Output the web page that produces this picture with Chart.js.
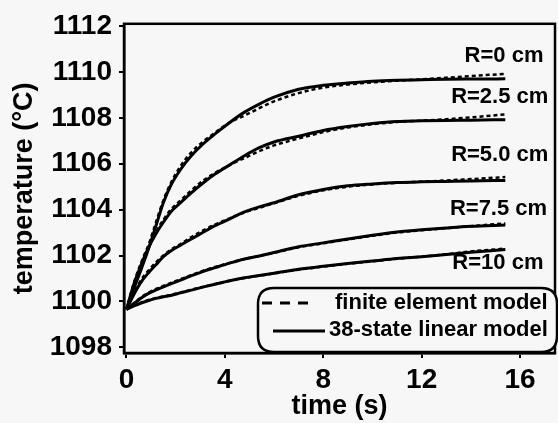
<!DOCTYPE html>
<html>
<head>
<meta charset="utf-8">
<script src="https://cdn.jsdelivr.net/npm/chart.js@4.4.1/dist/chart.umd.min.js"></script>
<style>
  html, body { margin: 0; padding: 0; background: #f7f7f7; }
  canvas { display: block; }
</style>
</head>
<body>
<canvas id="myChart" width="558" height="423"></canvas>
<script>
// time axis (s), shared by all curves
var times = [0, 0.3, 0.6, 0.9, 1.2, 1.5, 1.8, 2.2, 2.6, 3.1, 3.6, 4.2, 4.8, 5.4, 6.0, 7.0, 8.0, 9.0, 10.0, 11.0, 12.0, 13.0, 14.0, 15.4];

// 38-state linear model (solid)
var linR0   = [1099.65, 1100.55, 1101.4, 1102.3, 1103.3, 1104.3, 1105.05, 1105.75, 1106.3, 1106.85, 1107.3, 1107.8, 1108.25, 1108.6, 1108.9, 1109.25, 1109.42, 1109.52, 1109.6, 1109.64, 1109.66, 1109.68, 1109.69, 1109.7];
var linR25  = [1099.65, 1100.75, 1101.6, 1102.35, 1102.95, 1103.45, 1103.9, 1104.3, 1104.7, 1105.15, 1105.55, 1105.95, 1106.35, 1106.7, 1106.95, 1107.2, 1107.45, 1107.62, 1107.75, 1107.84, 1107.87, 1107.89, 1107.9, 1107.92];
var linR50  = [1099.65, 1100.3, 1100.85, 1101.25, 1101.6, 1101.95, 1102.2, 1102.45, 1102.7, 1103.0, 1103.3, 1103.6, 1103.9, 1104.12, 1104.3, 1104.65, 1104.88, 1105.04, 1105.12, 1105.18, 1105.21, 1105.23, 1105.25, 1105.27];
var linR75  = [1099.65, 1099.9, 1100.15, 1100.35, 1100.5, 1100.63, 1100.76, 1100.93, 1101.1, 1101.3, 1101.47, 1101.67, 1101.85, 1101.98, 1102.13, 1102.38, 1102.55, 1102.72, 1102.88, 1103.02, 1103.12, 1103.2, 1103.27, 1103.33];
var linR10  = [1099.65, 1099.8, 1099.93, 1100.04, 1100.13, 1100.2, 1100.26, 1100.37, 1100.48, 1100.62, 1100.75, 1100.9, 1101.03, 1101.13, 1101.23, 1101.4, 1101.53, 1101.65, 1101.76, 1101.87, 1101.95, 1102.04, 1102.14, 1102.26];

// finite element model (dashed)
var feR0   = [1099.65, 1100.6, 1101.5, 1102.45, 1103.45, 1104.4, 1105.15, 1105.9, 1106.45, 1106.95, 1107.35, 1107.8, 1108.1, 1108.42, 1108.72, 1109.08, 1109.32, 1109.45, 1109.55, 1109.62, 1109.68, 1109.75, 1109.82, 1109.92];
var feR25  = [1099.65, 1100.8, 1101.7, 1102.45, 1103.05, 1103.55, 1104.0, 1104.4, 1104.8, 1105.25, 1105.6, 1105.95, 1106.25, 1106.55, 1106.8, 1107.1, 1107.38, 1107.58, 1107.72, 1107.82, 1107.88, 1107.94, 1108.02, 1108.15];
var feR50  = [1099.65, 1100.35, 1100.95, 1101.35, 1101.7, 1102.0, 1102.25, 1102.5, 1102.78, 1103.08, 1103.35, 1103.62, 1103.88, 1104.08, 1104.28, 1104.6, 1104.84, 1105.0, 1105.1, 1105.17, 1105.22, 1105.27, 1105.33, 1105.42];
var feR75  = [1099.65, 1099.92, 1100.18, 1100.38, 1100.54, 1100.67, 1100.8, 1100.97, 1101.13, 1101.33, 1101.5, 1101.68, 1101.85, 1101.98, 1102.12, 1102.36, 1102.53, 1102.7, 1102.86, 1103.0, 1103.1, 1103.19, 1103.28, 1103.4];
var feR10  = [1099.65, 1099.82, 1099.95, 1100.06, 1100.15, 1100.22, 1100.28, 1100.39, 1100.5, 1100.63, 1100.76, 1100.9, 1101.02, 1101.12, 1101.22, 1101.38, 1101.52, 1101.64, 1101.75, 1101.86, 1101.95, 1102.05, 1102.18, 1102.3];

// curve labels
var curveLabels = ['R=0 cm', 'R=2.5 cm', 'R=5.0 cm', 'R=7.5 cm', 'R=10 cm'];
var labelTemp   = [1110.68, 1108.92, 1106.38, 1104.02, 1101.66];
var labelTime   = [16.95, 17.15, 17.15, 17.1, 16.95];

// axis ticks
var xTicks = [0, 4, 8, 12, 16];
var yTicks = [1098, 1100, 1102, 1104, 1106, 1108, 1110, 1112];

var legendNames = ['finite element model', '38-state linear model'];

var FONT = "'Liberation Sans', Arial, Helvetica, sans-serif";

function pts(vals) {
    return times.map(function (t, i) { return { x: t, y: vals[i] }; });
}

var datasets = [];
[linR0, linR25, linR50, linR75, linR10].forEach(function (s) {
    datasets.push({ data: pts(s), borderColor: '#000', borderWidth: 3, pointRadius: 0,
        cubicInterpolationMode: 'monotone', fill: false });
});
[feR0, feR25, feR50, feR75, feR10].forEach(function (s) {
    datasets.push({ data: pts(s), borderColor: '#000', borderWidth: 2.5, borderDash: [4, 3], pointRadius: 0,
        cubicInterpolationMode: 'monotone', fill: false });
});

// frame, curve labels and the rounded legend box
var decorPlugin = {
    id: 'decor',
    afterDraw: function (chart) {
        var ctx = chart.ctx, a = chart.chartArea;
        var xs = chart.scales.x, ys = chart.scales.y;
        ctx.save();
        ctx.strokeStyle = '#000';
        ctx.lineWidth = 2.5;
        ctx.strokeRect(a.left, a.top, a.right - a.left, a.bottom - a.top);

        ctx.fillStyle = '#000';
        ctx.font = 'bold 22px ' + FONT;
        ctx.textAlign = 'right';
        ctx.textBaseline = 'middle';
        curveLabels.forEach(function (txt, i) {
            ctx.fillText(txt, xs.getPixelForValue(labelTime[i]), ys.getPixelForValue(labelTemp[i]));
        });

        // legend
        var bx = 258, by = 288, bw = 299, bh = 64, r = 16;
        ctx.beginPath();
        ctx.moveTo(bx + r, by);
        ctx.lineTo(bx + bw - r, by);
        ctx.quadraticCurveTo(bx + bw, by, bx + bw, by + r);
        ctx.lineTo(bx + bw, by + bh - r);
        ctx.quadraticCurveTo(bx + bw, by + bh, bx + bw - r, by + bh);
        ctx.lineTo(bx + r, by + bh);
        ctx.quadraticCurveTo(bx, by + bh, bx, by + bh - r);
        ctx.lineTo(bx, by + r);
        ctx.quadraticCurveTo(bx, by, bx + r, by);
        ctx.closePath();
        ctx.fillStyle = '#f7f7f7';
        ctx.fill();
        ctx.lineWidth = 2.5;
        ctx.stroke();

        ctx.lineWidth = 3;
        ctx.setLineDash([10, 8]);
        ctx.beginPath();
        ctx.moveTo(262, 303); ctx.lineTo(308, 303);
        ctx.stroke();
        ctx.setLineDash([]);
        ctx.beginPath();
        ctx.moveTo(273, 331); ctx.lineTo(325, 331);
        ctx.stroke();

        ctx.fillStyle = '#000';
        ctx.font = 'bold 22px ' + FONT;
        ctx.textAlign = 'left';
        ctx.fillText(legendNames[0], 335, 303);
        ctx.fillText(legendNames[1], 329, 330);
        ctx.restore();
    }
};

var ctx = document.getElementById('myChart').getContext('2d');
var myChart = new Chart(ctx, {
    type: 'line',
    data: { datasets: datasets },
    options: {
        animation: false,
        responsive: false,
        maintainAspectRatio: false,
        devicePixelRatio: 1,
        layout: { padding: { top: 19, right: 3, left: 0, bottom: 0 } },
        plugins: { legend: { display: false }, tooltip: { enabled: false } },
        scales: {
            x: {
                type: 'linear',
                min: -0.1,
                max: 17.42,
                afterFit: function (s) { s.height = 70; },
                afterBuildTicks: function (s) { s.ticks = xTicks.map(function (v) { return { value: v }; }); },
                grid: { drawOnChartArea: false, color: '#000', lineWidth: 2, tickLength: 5 },
                border: { color: '#000', width: 2.5 },
                ticks: { color: '#000', padding: 5, maxRotation: 0, callback: function (v) { return String(v); },
                    font: { family: FONT, size: 28, weight: 'bold' } },
                title: { display: true, text: 'time (s)', color: '#000', padding: { top: 0, bottom: 0 },
                    font: { family: FONT, size: 27, weight: 'bold' } }
            },
            y: {
                min: 1097.75,
                max: 1112.1,
                afterFit: function (s) { s.width = 124; },
                afterBuildTicks: function (s) { s.ticks = yTicks.map(function (v) { return { value: v }; }); },
                grid: { drawOnChartArea: false, color: '#000', lineWidth: 2, tickLength: 5 },
                border: { color: '#000', width: 2.5 },
                ticks: { color: '#000', padding: 7, callback: function (v) { return String(v); },
                    font: { family: FONT, size: 28, weight: 'bold' } },
                title: { display: true, text: 'temperature (°C)', color: '#000', padding: { top: 8, bottom: 0 },
                    font: { family: FONT, size: 27, weight: 'bold' } }
            }
        }
    },
    plugins: [decorPlugin]
});
</script>
</body>
</html>
